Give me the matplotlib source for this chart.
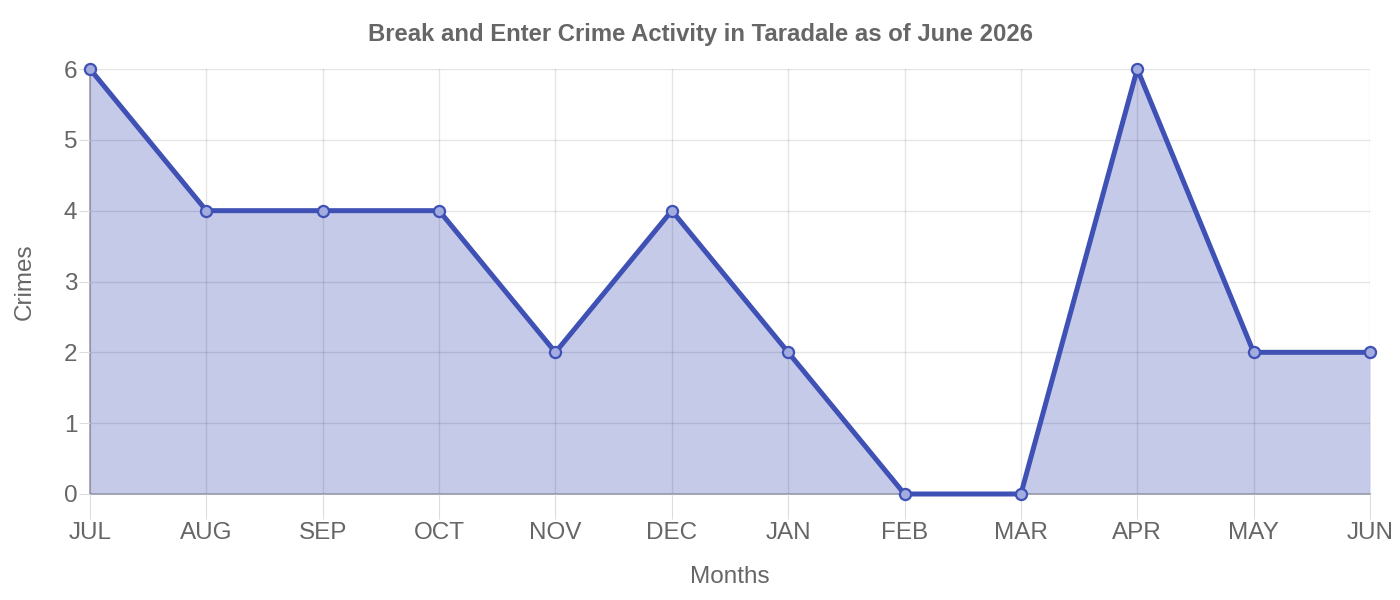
import matplotlib
matplotlib.use('Agg')
import matplotlib.pyplot as plt

plt.rcParams['font.family'] = ['Liberation Sans', 'DejaVu Sans']

# data
months = ['JUL', 'AUG', 'SEP', 'OCT', 'NOV', 'DEC', 'JAN', 'FEB', 'MAR', 'APR', 'MAY', 'JUN']
crimes = [6, 4, 4, 4, 2, 4, 2, 0, 0, 6, 2, 2]

line_col = '#3f51b5'
fill_col = '#c5cae9'
text_col = '#666666'

fig = plt.figure(figsize=(14, 6), dpi=100)
ax = fig.add_axes([90 / 1400, 1 - 494 / 600, 1280 / 1400, 425 / 600])

x = list(range(len(months)))
ax.fill_between(x, crimes, 0, color=fill_col, linewidth=0, zorder=1)
ax.plot(x, crimes, color=line_col, linewidth=3.6, zorder=3,
        marker='o', markersize=8, markerfacecolor='#a3acdf',
        markeredgecolor=line_col, markeredgewidth=1.6, clip_on=False)

ax.set_xlim(0, len(months) - 1)
ax.set_ylim(0, 6)
ax.set_xticks(x)
ax.set_xticklabels(months)
ax.set_yticks(range(7))

ax.grid(True, color='#000000', alpha=0.1, linewidth=1)
ax.set_axisbelow(False)
for s in ['top', 'right']:
    ax.spines[s].set_visible(False)
for s in ['left', 'bottom']:
    ax.spines[s].set_color('#9a9cae')
    ax.spines[s].set_linewidth(1.2)
ax.tick_params(axis='x', length=18, color='#dddddd', labelsize=17.5, labelcolor=text_col, pad=2)
ax.tick_params(axis='y', length=8, color='#dddddd', labelsize=17.5, labelcolor=text_col, pad=1)

ax.set_xlabel('Months', fontsize=17.5, color=text_col, labelpad=16)
ax.set_ylabel('Crimes', fontsize=17.5, color=text_col, labelpad=20)
fig.text(0.5, 1 - 35 / 600, 'Break and Enter Crime Activity in Taradale as of June 2026',
         ha='center', va='center', fontsize=17.2, fontweight='bold', color=text_col)

fig.savefig('out.png', dpi=100)
